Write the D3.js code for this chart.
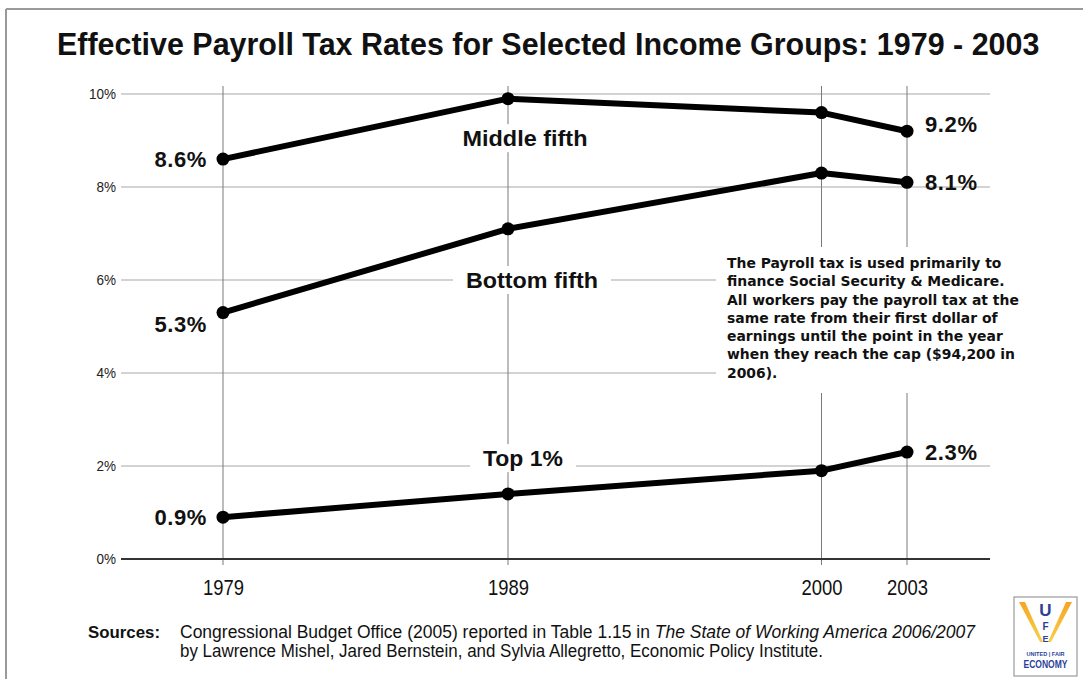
<!DOCTYPE html>
<html>
<head>
<meta charset="utf-8">
<script src="https://cdn.jsdelivr.net/npm/d3@7/dist/d3.min.js"></script>
<style>
  html, body { margin: 0; padding: 0; background: #fff; }
  svg { display: block; }
</style>
</head>
<body>
<svg id="chart" width="1083" height="679"></svg>
<script>
// Effective payroll tax rates (percent of income) by income group
const years = [1979, 1989, 2000, 2003];
const middleFifth = [8.6, 9.9, 9.6, 9.2];
const bottomFifth = [5.3, 7.1, 8.3, 8.1];
const topOnePercent = [0.9, 1.4, 1.9, 2.3];
const seriesNames = ["Middle fifth", "Bottom fifth", "Top 1%"];
const yTicks = [0, 2, 4, 6, 8, 10];
const yTickLabels = ["0%", "2%", "4%", "6%", "8%", "10%"];
const xTickLabels = ["1979", "1989", "2000", "2003"];

const titleText = "Effective Payroll Tax Rates for Selected Income Groups: 1979 - 2003";
const noteLines = [
  "The Payroll tax is used primarily to",
  "finance Social Security & Medicare.",
  "All workers pay the payroll tax at the",
  "same rate from their first dollar of",
  "earnings until the point in the year",
  "when they reach the cap ($94,200 in",
  "2006)."
];

const svg = d3.select("#chart");
const SANS = "'Liberation Sans', Arial, Helvetica, sans-serif";

const x = d3.scaleLinear().domain([1979, 2003]).range([223, 907]);
const y = d3.scaleLinear().domain([0, 10]).range([559, 94]);
const plotLeft = 121, plotRight = 990;

// outer frame
svg.append("line").attr("x1", 6).attr("x2", 1083).attr("y1", 9).attr("y2", 9)
  .attr("stroke", "#9a9a9a").attr("stroke-width", 2);
svg.append("line").attr("x1", 6).attr("x2", 6).attr("y1", 9).attr("y2", 679)
  .attr("stroke", "#9a9a9a").attr("stroke-width", 2);

// title, condensed horizontally to span the chart
const titleG = svg.append("g");
const title = titleG.append("text")
  .attr("x", 0).attr("y", 0)
  .attr("font-family", SANS).attr("font-weight", "bold").attr("font-size", 32)
  .attr("fill", "#111")
  .text(titleText);
const titleW = title.node().getComputedTextLength();
titleG.attr("transform", `translate(57,55) scale(${983 / titleW},1)`);

// horizontal gridlines
const grid = svg.append("g");
grid.selectAll("line.h")
  .data(yTicks.filter(d => d > 0))
  .join("line")
  .attr("class", "h")
  .attr("x1", plotLeft).attr("x2", plotRight)
  .attr("y1", d => y(d)).attr("y2", d => y(d))
  .attr("stroke", "#c4c4c4").attr("stroke-width", 1.6);

// vertical year lines
grid.selectAll("line.v")
  .data(years)
  .join("line")
  .attr("class", "v")
  .attr("x1", d => x(d)).attr("x2", d => x(d))
  .attr("y1", 86).attr("y2", 565)
  .attr("stroke", "#7a7a7a").attr("stroke-width", 1);

// baseline axis
svg.append("line")
  .attr("x1", plotLeft).attr("x2", plotRight)
  .attr("y1", y(0)).attr("y2", y(0))
  .attr("stroke", "#333").attr("stroke-width", 2);

// y tick labels
const yAxis = d3.axisLeft(y).tickValues(yTicks).tickSize(0).tickPadding(0)
  .tickFormat((d, i) => yTickLabels[i]);
const yAxisG = svg.append("g").attr("transform", `translate(${plotLeft - 5},0)`).call(yAxis);
yAxisG.select(".domain").remove();
yAxisG.selectAll("text")
  .attr("font-family", SANS).attr("font-size", 15).attr("fill", "#222")
  .attr("textLength", function () { return this.getComputedTextLength() * 0.9; })
  .attr("lengthAdjust", "spacingAndGlyphs");

// x tick labels
const xAxis = d3.axisBottom(x).tickValues(years).tickSize(0).tickPadding(0)
  .tickFormat((d, i) => xTickLabels[i]);
const xAxisG = svg.append("g").attr("transform", "translate(0,579)").call(xAxis);
xAxisG.select(".domain").remove();
xAxisG.selectAll("text")
  .attr("font-family", SANS).attr("font-size", 22).attr("fill", "#111")
  .attr("textLength", 41).attr("lengthAdjust", "spacingAndGlyphs");

// series name labels on white patches
const nameSpots = [
  { name: seriesNames[0], cx: 525, v: 9.05, w: 142, tw: 125 },
  { name: seriesNames[1], cx: 532, v: 6.0, w: 158, tw: 132 },
  { name: seriesNames[2], cx: 523, v: 2.17, w: 106, tw: 80 }
];
const nameG = svg.append("g");
nameSpots.forEach(s => {
  nameG.append("rect")
    .attr("x", s.cx - s.w / 2).attr("y", y(s.v) - 14)
    .attr("width", s.w).attr("height", 28).attr("fill", "#fff");
  nameG.append("text")
    .attr("x", s.cx).attr("y", y(s.v)).attr("dy", "0.36em")
    .attr("text-anchor", "middle")
    .attr("font-family", SANS).attr("font-weight", "bold").attr("font-size", 21.5)
    .attr("fill", "#111")
    .attr("textLength", s.tw).attr("lengthAdjust", "spacingAndGlyphs")
    .text(s.name);
});

// explanatory note on a white panel
svg.append("rect").attr("x", 716).attr("y", 247).attr("width", 310).attr("height", 146)
  .attr("fill", "#fff");
const noteG = svg.append("g");
const noteText = noteG.selectAll("text")
  .data(noteLines)
  .join("text")
  .attr("x", 0).attr("y", (d, i) => i * 18.3)
  .attr("font-family", "'DejaVu Sans', Verdana, sans-serif")
  .attr("font-weight", "bold").attr("font-size", 14.5)
  .attr("fill", "#111")
  .text(d => d);
const widest = d3.max(noteText.nodes(), n => n.getComputedTextLength());
noteG.attr("transform", `translate(727,268) scale(${292 / widest},1)`);

// data lines and markers
const series = [middleFifth, bottomFifth, topOnePercent];
const line = d3.line().x((d, i) => x(years[i])).y(d => y(d));
svg.append("g").selectAll("path")
  .data(series)
  .join("path")
  .attr("d", d => line(d))
  .attr("fill", "none").attr("stroke", "#000")
  .attr("stroke-width", 6).attr("stroke-linejoin", "round");
series.forEach(vals => {
  svg.append("g").selectAll("circle")
    .data(vals)
    .join("circle")
    .attr("cx", (d, i) => x(years[i])).attr("cy", d => y(d))
    .attr("r", 6.5).attr("fill", "#000");
});

// start and end value labels
const fmt = d => d3.format(".1f")(d) + "%";
const endLabels = [];
series.forEach((vals, k) => {
  endLabels.push({ v: vals[0], side: "left", dy: [0, 12, 0][k] });
  endLabels.push({ v: vals[vals.length - 1], side: "right", dy: [-7, 0, 0][k] });
});
svg.append("g").selectAll("text")
  .data(endLabels)
  .join("text")
  .attr("x", d => d.side === "left" ? x(1979) - 16 : x(2003) + 18)
  .attr("y", d => y(d.v) + d.dy)
  .attr("dy", "0.36em")
  .attr("text-anchor", d => d.side === "left" ? "end" : "start")
  .attr("font-family", SANS).attr("font-weight", "bold").attr("font-size", 22)
  .attr("fill", "#111")
  .attr("letter-spacing", 0.6)
  .text(d => fmt(d.v));

// sources
const src = svg.append("g").attr("font-family", SANS).attr("fill", "#111");
src.append("text").attr("x", 88).attr("y", 638)
  .attr("font-weight", "bold").attr("font-size", 17)
  .attr("textLength", 72).attr("lengthAdjust", "spacingAndGlyphs")
  .text("Sources:");
const s1 = src.append("text").attr("x", 180).attr("y", 638).attr("font-size", 17.5)
  .attr("textLength", 795).attr("lengthAdjust", "spacingAndGlyphs");
s1.append("tspan").text("Congressional Budget Office (2005) reported in Table 1.15 in ");
s1.append("tspan").attr("font-style", "italic").text("The State of Working America 2006/2007");
src.append("text").attr("x", 180).attr("y", 657).attr("font-size", 17.5)
  .attr("textLength", 643).attr("lengthAdjust", "spacingAndGlyphs")
  .text("by Lawrence Mishel, Jared Bernstein, and Sylvia Allegretto, Economic Policy Institute.");

// United for a Fair Economy badge
const logo = svg.append("g");
logo.append("rect").attr("x", 1014).attr("y", 597).attr("width", 63).attr("height", 79)
  .attr("fill", "#fff").attr("stroke", "#9a9a9a").attr("stroke-width", 1.2);
const grad = svg.append("defs").append("linearGradient").attr("id", "wing")
  .attr("x1", 0).attr("y1", 0).attr("x2", 0).attr("y2", 1);
grad.append("stop").attr("offset", 0).attr("stop-color", "#f5a623");
grad.append("stop").attr("offset", 1).attr("stop-color", "#f7d04a");
logo.append("polygon").attr("points", "1019,602 1025,602 1043,642 1040,642").attr("fill", "url(#wing)");
logo.append("polygon").attr("points", "1066,602 1072,602 1051,642 1048,642").attr("fill", "url(#wing)");
const blue = "#2b3f9a";
const badgeLetters = [
  { t: "U", size: 17, base: 616 },
  { t: "F", size: 10, base: 630 },
  { t: "E", size: 9, base: 642 }
];
badgeLetters.forEach(b => {
  logo.append("text").attr("x", 1045.5).attr("y", b.base).attr("text-anchor", "middle")
    .attr("font-family", SANS).attr("font-weight", "bold").attr("font-size", b.size)
    .attr("fill", blue).text(b.t);
});
logo.append("text").attr("x", 1045.5).attr("y", 656).attr("text-anchor", "middle")
  .attr("font-family", SANS).attr("font-weight", "bold").attr("font-size", 6).attr("fill", blue)
  .attr("textLength", 38).attr("lengthAdjust", "spacingAndGlyphs")
  .text("UNITED | FAIR");
logo.append("text").attr("x", 1045.5).attr("y", 668).attr("text-anchor", "middle")
  .attr("font-family", SANS).attr("font-weight", "bold").attr("font-size", 11).attr("fill", blue)
  .attr("textLength", 44).attr("lengthAdjust", "spacingAndGlyphs")
  .text("ECONOMY");
</script>
</body>
</html>
